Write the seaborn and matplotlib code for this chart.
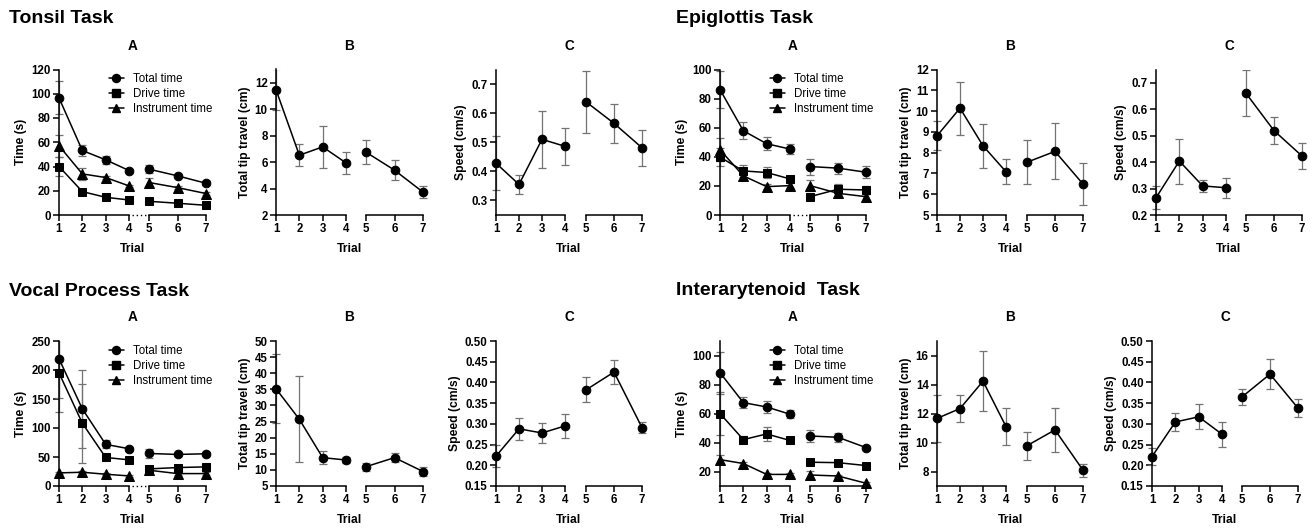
import matplotlib
matplotlib.use('Agg')
import matplotlib.pyplot as plt
from matplotlib.lines import Line2D
from matplotlib.ticker import FormatStrFormatter
from matplotlib.transforms import Bbox, TransformedBbox
import seaborn as sns

# ---- data (mean and error bar per trial) ----
trials = [1, 2, 3, 4, 5, 6, 7]

tonsil_total = [96.6, 53.2, 45.5, 36.7, 37.8, 32.3, 26.2]
tonsil_total_err = [13.7, 4.5, 3.5, 1.5, 3.5, 1.5, 1.5]
tonsil_drive = [40.0, 19.3, 14.6, 12.4, 11.3, 9.7, 8.0]
tonsil_drive_err = [8.0, 1.5, 1.5, 1.0, 1.5, 1.0, 1.0]
tonsil_instr = [57.1, 33.9, 30.9, 24.0, 26.8, 22.6, 17.7]
tonsil_instr_err = [9.0, 5.0, 1.5, 1.0, 3.5, 1.0, 1.5]
tonsil_travel = [11.47, 6.52, 7.15, 5.94, 6.75, 5.39, 3.73]
tonsil_travel_err = [1.55, 0.85, 1.6, 0.85, 0.9, 0.78, 0.47]
tonsil_speed = [0.428, 0.355, 0.510, 0.486, 0.639, 0.565, 0.481]
tonsil_speed_err = [0.093, 0.033, 0.097, 0.063, 0.107, 0.068, 0.062]

epi_total = [86.2, 57.9, 49.0, 45.3, 33.3, 32.2, 29.4]
epi_total_err = [12.6, 5.8, 4.5, 3.5, 5.5, 3.7, 4.3]
epi_drive = [39.8, 30.3, 29.2, 24.8, 12.6, 17.7, 17.2]
epi_drive_err = [6.0, 4.0, 4.0, 2.0, 2.0, 3.5, 3.0]
epi_instr = [44.8, 26.9, 19.5, 20.2, 20.2, 14.9, 12.6]
epi_instr_err = [8.0, 3.0, 1.5, 1.5, 4.0, 2.0, 2.0]
epi_travel = [8.81, 10.14, 8.33, 7.08, 7.54, 8.06, 6.49]
epi_travel_err = [0.7, 1.28, 1.05, 0.6, 1.05, 1.35, 1.0]
epi_speed = [0.265, 0.404, 0.310, 0.303, 0.660, 0.519, 0.423]
epi_speed_err = [0.043, 0.085, 0.023, 0.038, 0.087, 0.05, 0.05]

vp_total = [219.3, 133.0, 71.8, 64.2, 56.1, 54.4, 55.6]
vp_total_err = [68, 67, 7, 3, 7, 3, 3]
vp_drive = [195.0, 108.2, 49.2, 45.1, 29.5, 31.8, 33.0]
vp_drive_err = [68, 68, 4, 2, 4, 3, 5]
vp_instr = [22.6, 23.7, 20.3, 17.4, 27.2, 21.4, 21.4]
vp_instr_err = [2, 2, 2, 1.5, 3, 2, 2]
vp_travel = [35.2, 25.7, 13.8, 13.07, 11.0, 13.8, 9.5]
vp_travel_err = [10.7, 13.4, 2.0, 0.8, 1.2, 1.5, 1.4]
vp_speed = [0.222, 0.288, 0.278, 0.295, 0.382, 0.425, 0.291]
vp_speed_err = [0.026, 0.026, 0.024, 0.029, 0.030, 0.029, 0.013]

ia_total = [88.2, 67.5, 64.5, 59.5, 44.5, 43.6, 36.5]
ia_total_err = [14.5, 3.8, 4.3, 2.7, 4.3, 3.0, 1.0]
ia_drive = [60.0, 42.0, 45.9, 41.4, 26.4, 26.1, 24.1]
ia_drive_err = [14.5, 2.5, 4.9, 2.0, 1.0, 1.0, 1.0]
ia_instr = [28.2, 25.5, 18.0, 18.0, 17.6, 16.9, 11.9]
ia_instr_err = [3.0, 1.0, 1.0, 1.0, 2.5, 1.0, 1.0]
ia_travel = [11.66, 12.34, 14.23, 11.1, 9.78, 10.87, 8.09]
ia_travel_err = [1.6, 0.96, 2.08, 1.3, 0.97, 1.5, 0.45]
ia_speed = [0.221, 0.3045, 0.317, 0.275, 0.365, 0.420, 0.338]
ia_speed_err = [0.020, 0.022, 0.030, 0.030, 0.020, 0.036, 0.022]

series_names = ['Total time', 'Drive time', 'Instrument time']
series_markers = ['o', 's', '^']

# ---- style ----
sns.set_theme(style='ticks')
plt.rcParams['font.family'] = ['Liberation Sans', 'DejaVu Sans']
plt.rcParams['font.weight'] = 'bold'
plt.rcParams['axes.linewidth'] = 1.1
for key in ['text.color', 'axes.labelcolor', 'axes.edgecolor', 'xtick.color', 'ytick.color']:
    plt.rcParams[key] = 'black'

W, H = 1313, 528
fig = plt.figure(figsize=(W / 100, H / 100), dpi=100)

err_color = '0.45'

# pixel layout: (x of trial 1, trial 4, trial 5, trial 7)
cols = [(59, 129, 149, 206), (276, 346, 366, 423), (496, 565, 586, 642),
        (720, 790, 810, 866), (937, 1006, 1027, 1083), (1156, 1226, 1246, 1302)]
rows = [(69.5, 215), (341, 486)]
trial_base = [251.7, 522.7]
letter_base = [50, 321]


def px_axes(x0, x1, top, bot):
    return fig.add_axes([x0 / W, 1 - bot / H, (x1 - x0) / W, (bot - top) / H])


def draw_panel(col, row_i, series, ylim, yticks, yfmt, ylabel, letter,
               gap_dots=False, legend=False, shift=0):
    x1, x4, x5, x7 = [v + shift for v in col]
    top, bot = rows[row_i]
    axl = px_axes(x1, x4, top, bot)
    axr = px_axes(x5, x7, top, bot)
    for ax, sl, xl, ends in [(axl, slice(0, 4), (1, 4), [4]), (axr, slice(4, 7), (5, 7), [5, 7])]:
        t = trials[sl]
        clip = TransformedBbox(Bbox([[-0.3, 0], [1.3, 1]]), ax.transAxes)
        for vals, errs, mk in series:
            eb = ax.errorbar(t, vals[sl], yerr=errs[sl], fmt='none', ecolor=err_color,
                             elinewidth=0.9, capsize=3, capthick=0.9, zorder=1)
            for a in list(eb.lines[1]) + list(eb.lines[2]):
                a.set_clip_box(clip)
            sns.lineplot(x=t, y=vals[sl], ax=ax, color='black', marker=mk,
                         markersize=6.5 if mk == '^' else 6.2, markeredgecolor='black',
                         linewidth=1.1, clip_on=False, zorder=3, errorbar=None)
        ax.set_xlim(*xl)
        ax.set_ylim(*ylim)
        ax.set_xticks(t)
        ax.set_xticks(ends, minor=True)
        ax.tick_params(axis='both', which='major', direction='out', length=4, width=1.1,
                       labelsize=8.3, pad=2, color='black')
        ax.tick_params(axis='x', which='minor', direction='in', length=4, width=1.1, color='black')
        ax.set_xlabel('')
        ax.set_ylabel('')
        ax.patch.set_alpha(0)
        sns.despine(ax=ax)
    axl.set_yticks(yticks)
    axl.yaxis.set_major_formatter(FormatStrFormatter(yfmt))
    axl.set_ylabel(ylabel, fontsize=8.7, fontweight='bold', labelpad=3)
    axr.spines['left'].set_visible(False)
    axr.tick_params(axis='y', left=False, labelleft=False)

    if gap_dots:
        fig.add_artist(Line2D([(x4 + 3) / W, (x5 - 3) / W], [1 - bot / H] * 2,
                              transform=fig.transFigure, color='black', lw=1.0,
                              linestyle=(0, (1, 2))))
    if legend:
        handles = [Line2D([], [], color='black', lw=1.1, marker=m,
                          markersize=6 if m == '^' else 5.8) for m in series_markers]
        axl.legend(handles, series_names, loc='upper left',
                   bbox_to_anchor=((x1 + 50) / W, 1 - (top + 4) / H),
                   bbox_transform=fig.transFigure, frameon=False,
                   prop={'size': 8.3, 'weight': 'normal'}, handlelength=1.3,
                   handletextpad=0.8, labelspacing=0.25, borderpad=0, borderaxespad=0)

    cx = (x1 + x7) / 2 / W
    fig.text(cx, 1 - trial_base[row_i] / H, 'Trial', ha='center', va='baseline',
             fontsize=8.7, fontweight='bold')
    fig.text(cx, 1 - letter_base[row_i] / H, letter, ha='center', va='baseline',
             fontsize=9.8, fontweight='bold')


def a_series(total, total_err, drive, drive_err, instr, instr_err):
    return [(total, total_err, 'o'), (drive, drive_err, 's'), (instr, instr_err, '^')]


# ---- Tonsil ----
draw_panel(cols[0], 0, a_series(tonsil_total, tonsil_total_err, tonsil_drive, tonsil_drive_err,
                                tonsil_instr, tonsil_instr_err),
           (0, 120), range(0, 121, 20), '%d', 'Time (s)', 'A', gap_dots=True, legend=True)
draw_panel(cols[1], 0, [(tonsil_travel, tonsil_travel_err, 'o')],
           (2, 13), range(2, 13, 2), '%d', 'Total tip travel (cm)', 'B')
draw_panel(cols[2], 0, [(tonsil_speed, tonsil_speed_err, 'o')],
           (0.25, 0.75), [0.3, 0.4, 0.5, 0.6, 0.7], '%.1f', 'Speed (cm/s)', 'C')

# ---- Epiglottis ----
draw_panel(cols[3], 0, a_series(epi_total, epi_total_err, epi_drive, epi_drive_err,
                                epi_instr, epi_instr_err),
           (0, 100), range(0, 101, 20), '%d', 'Time (s)', 'A', gap_dots=True, legend=True)
draw_panel(cols[4], 0, [(epi_travel, epi_travel_err, 'o')],
           (5, 12), range(5, 13), '%d', 'Total tip travel (cm)', 'B')
draw_panel(cols[5], 0, [(epi_speed, epi_speed_err, 'o')],
           (0.2, 0.75), [0.2, 0.3, 0.4, 0.5, 0.6, 0.7], '%.1f', 'Speed (cm/s)', 'C')

# ---- Vocal Process ----
draw_panel(cols[0], 1, a_series(vp_total, vp_total_err, vp_drive, vp_drive_err,
                                vp_instr, vp_instr_err),
           (0, 250), range(0, 251, 50), '%d', 'Time (s)', 'A', gap_dots=True, legend=True)
draw_panel(cols[1], 1, [(vp_travel, vp_travel_err, 'o')],
           (5, 50), range(5, 51, 5), '%d', 'Total tip travel (cm)', 'B')
draw_panel(cols[2], 1, [(vp_speed, vp_speed_err, 'o')],
           (0.15, 0.5), [0.15, 0.2, 0.25, 0.3, 0.35, 0.4, 0.45, 0.5], '%.2f', 'Speed (cm/s)', 'C')

# ---- Interarytenoid ----
draw_panel(cols[3], 1, a_series(ia_total, ia_total_err, ia_drive, ia_drive_err,
                                ia_instr, ia_instr_err),
           (10, 110), range(20, 101, 20), '%d', 'Time (s)', 'A', legend=True)
draw_panel(cols[4], 1, [(ia_travel, ia_travel_err, 'o')],
           (7, 17), range(8, 17, 2), '%d', 'Total tip travel (cm)', 'B')
draw_panel(cols[5], 1, [(ia_speed, ia_speed_err, 'o')],
           (0.15, 0.5), [0.15, 0.2, 0.25, 0.3, 0.35, 0.4, 0.45, 0.5], '%.2f', 'Speed (cm/s)', 'C',
           shift=-4)

# ---- task titles ----
fig.text(9 / W, 1 - 22.7 / H, 'Tonsil Task', ha='left', va='baseline', fontsize=14, fontweight='bold')
fig.text(676 / W, 1 - 22.7 / H, 'Epiglottis Task', ha='left', va='baseline', fontsize=14, fontweight='bold')
fig.text(9 / W, 1 - 296 / H, 'Vocal Process Task', ha='left', va='baseline', fontsize=14, fontweight='bold')
fig.text(676 / W, 1 - 295 / H, 'Interarytenoid  Task', ha='left', va='baseline', fontsize=14, fontweight='bold')

fig.savefig('out.png', dpi=100)
